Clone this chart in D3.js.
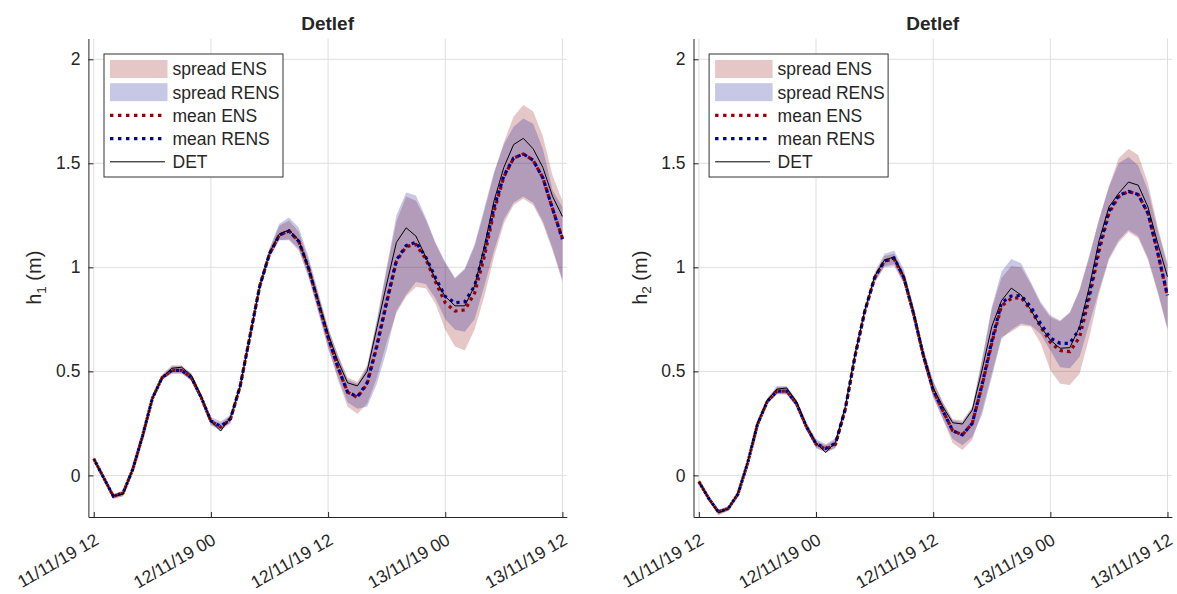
<!DOCTYPE html>
<html>
<head>
<meta charset="utf-8">
<script src="https://cdn.jsdelivr.net/npm/d3@7"></script>
<style>
  body { margin: 0; background: #fff; }
  svg text { font-family: "Liberation Sans", Arial, Helvetica, sans-serif; fill: #262626; }
</style>
</head>
<body>
<svg id="chart" width="1177" height="594"></svg>
<script>
// Hourly water level forecasts for storm Detlef, 11/11/19 12 UTC to 13/11/19 12 UTC
const startTime = Date.UTC(2019, 10, 11, 12);
const stepHours = 1;

const tickLabels = ["11/11/19 12", "12/11/19 00", "12/11/19 12", "13/11/19 00", "13/11/19 12"];
const yTicks = [0, 0.5, 1, 1.5, 2];
const yDomain = [-0.2, 2.1];
const seriesNames = ["spread ENS", "spread RENS", "mean ENS", "mean RENS", "DET"];

// h1 (left panel)
const det1 = [0.08, -0.01, -0.10, -0.09, 0.03, 0.19, 0.37, 0.47, 0.515, 0.52, 0.48, 0.38,
  0.26, 0.213, 0.28, 0.43, 0.67, 0.91, 1.07, 1.16, 1.18, 1.13, 1.00, 0.84,
  0.68, 0.55, 0.445, 0.43, 0.50, 0.71, 0.92, 1.12, 1.19, 1.15, 1.05, 0.94,
  0.86, 0.815, 0.815, 0.91, 1.10, 1.32, 1.48, 1.59, 1.62, 1.57, 1.48, 1.34, 1.245];
const meanEns1 = [0.08, -0.01, -0.10, -0.085, 0.03, 0.19, 0.37, 0.47, 0.505, 0.505, 0.47, 0.375,
  0.26, 0.232, 0.27, 0.43, 0.67, 0.91, 1.065, 1.155, 1.175, 1.125, 0.995, 0.83,
  0.665, 0.52, 0.40, 0.375, 0.44, 0.62, 0.83, 1.03, 1.10, 1.11, 1.04, 0.93,
  0.83, 0.79, 0.795, 0.875, 1.05, 1.27, 1.435, 1.525, 1.545, 1.515, 1.43, 1.28, 1.14];
const meanRens1 = [0.08, -0.01, -0.10, -0.085, 0.03, 0.19, 0.37, 0.47, 0.505, 0.505, 0.47, 0.375,
  0.262, 0.235, 0.272, 0.43, 0.67, 0.91, 1.065, 1.155, 1.175, 1.125, 0.995, 0.83,
  0.665, 0.52, 0.40, 0.378, 0.445, 0.625, 0.835, 1.035, 1.105, 1.12, 1.05, 0.95,
  0.86, 0.83, 0.835, 0.91, 1.08, 1.29, 1.44, 1.525, 1.545, 1.515, 1.43, 1.28, 1.135];
const ensLo1 = [0.07, -0.02, -0.115, -0.10, 0.02, 0.18, 0.36, 0.46, 0.49, 0.49, 0.455, 0.36,
  0.245, 0.22, 0.255, 0.415, 0.655, 0.895, 1.05, 1.13, 1.135, 1.09, 0.96, 0.79,
  0.62, 0.46, 0.33, 0.295, 0.345, 0.47, 0.64, 0.78, 0.86, 0.905, 0.90, 0.825,
  0.70, 0.62, 0.60, 0.70, 0.86, 1.05, 1.21, 1.30, 1.33, 1.30, 1.21, 1.08, 0.93];
const ensHi1 = [0.09, 0.0, -0.09, -0.075, 0.04, 0.20, 0.38, 0.485, 0.53, 0.53, 0.49, 0.39,
  0.27, 0.25, 0.285, 0.445, 0.685, 0.925, 1.09, 1.20, 1.225, 1.17, 1.035, 0.87,
  0.71, 0.58, 0.47, 0.45, 0.53, 0.74, 0.99, 1.22, 1.34, 1.32, 1.23, 1.115,
  1.02, 0.945, 0.99, 1.10, 1.27, 1.45, 1.60, 1.725, 1.78, 1.75, 1.63, 1.44, 1.32];
const rensLo1 = [0.07, -0.02, -0.11, -0.10, 0.02, 0.18, 0.36, 0.46, 0.49, 0.49, 0.455, 0.36,
  0.24, 0.215, 0.25, 0.41, 0.65, 0.89, 1.045, 1.13, 1.13, 1.08, 0.95, 0.78,
  0.61, 0.47, 0.35, 0.32, 0.33, 0.44, 0.60, 0.79, 0.87, 0.93, 0.92, 0.85,
  0.75, 0.70, 0.69, 0.75, 0.91, 1.08, 1.23, 1.31, 1.34, 1.31, 1.22, 1.09, 0.94];
const rensHi1 = [0.09, 0.0, -0.09, -0.075, 0.04, 0.20, 0.38, 0.48, 0.525, 0.525, 0.49, 0.39,
  0.28, 0.26, 0.29, 0.445, 0.685, 0.925, 1.09, 1.21, 1.24, 1.19, 1.05, 0.88,
  0.71, 0.58, 0.46, 0.44, 0.52, 0.75, 1.00, 1.25, 1.36, 1.345, 1.24, 1.12,
  1.025, 0.95, 0.995, 1.11, 1.285, 1.46, 1.59, 1.676, 1.716, 1.69, 1.57, 1.37, 1.29];

// h2 (right panel)
const det2 = [-0.03, -0.11, -0.18, -0.16, -0.085, 0.065, 0.25, 0.36, 0.415, 0.42, 0.355, 0.24,
  0.155, 0.11, 0.16, 0.33, 0.585, 0.795, 0.955, 1.035, 1.05, 0.955, 0.785, 0.58,
  0.42, 0.33, 0.253, 0.247, 0.314, 0.506, 0.715, 0.84, 0.90, 0.867, 0.795, 0.715,
  0.65, 0.611, 0.614, 0.715, 0.907, 1.13, 1.29, 1.356, 1.41, 1.395, 1.29, 1.115, 0.955];
const meanEns2 = [-0.03, -0.11, -0.175, -0.16, -0.09, 0.06, 0.245, 0.355, 0.405, 0.405, 0.345, 0.235,
  0.15, 0.125, 0.15, 0.32, 0.575, 0.79, 0.95, 1.03, 1.04, 0.95, 0.775, 0.575,
  0.41, 0.31, 0.215, 0.195, 0.25, 0.43, 0.635, 0.815, 0.85, 0.855, 0.795, 0.715,
  0.64, 0.60, 0.595, 0.665, 0.855, 1.08, 1.26, 1.34, 1.365, 1.35, 1.26, 1.07, 0.86];
const meanRens2 = [-0.03, -0.11, -0.175, -0.16, -0.09, 0.06, 0.245, 0.355, 0.405, 0.405, 0.345, 0.235,
  0.152, 0.13, 0.155, 0.32, 0.575, 0.79, 0.95, 1.03, 1.045, 0.95, 0.775, 0.575,
  0.41, 0.31, 0.215, 0.195, 0.25, 0.435, 0.645, 0.83, 0.862, 0.865, 0.81, 0.73,
  0.66, 0.635, 0.635, 0.705, 0.88, 1.10, 1.27, 1.345, 1.365, 1.35, 1.26, 1.07, 0.865];
const ensLo2 = [-0.04, -0.12, -0.19, -0.17, -0.10, 0.05, 0.235, 0.345, 0.39, 0.39, 0.33, 0.22,
  0.135, 0.11, 0.135, 0.305, 0.56, 0.775, 0.93, 1.005, 1.015, 0.925, 0.75, 0.55,
  0.38, 0.27, 0.155, 0.122, 0.17, 0.31, 0.49, 0.665, 0.69, 0.72, 0.715, 0.635,
  0.505, 0.44, 0.435, 0.49, 0.665, 0.875, 1.035, 1.12, 1.17, 1.14, 1.035, 0.875, 0.70];
const ensHi2 = [-0.02, -0.10, -0.165, -0.15, -0.08, 0.07, 0.26, 0.37, 0.425, 0.425, 0.36, 0.25,
  0.165, 0.145, 0.17, 0.335, 0.59, 0.805, 0.965, 1.055, 1.065, 0.975, 0.80, 0.60,
  0.45, 0.35, 0.27, 0.265, 0.33, 0.55, 0.80, 0.95, 1.005, 1.00, 0.92, 0.825,
  0.76, 0.74, 0.78, 0.89, 1.05, 1.23, 1.39, 1.525, 1.57, 1.54, 1.405, 1.195, 1.02];
const rensLo2 = [-0.04, -0.12, -0.19, -0.17, -0.10, 0.05, 0.235, 0.345, 0.39, 0.39, 0.33, 0.22,
  0.13, 0.11, 0.13, 0.30, 0.555, 0.77, 0.925, 1.00, 1.005, 0.92, 0.745, 0.545,
  0.375, 0.27, 0.175, 0.145, 0.185, 0.29, 0.47, 0.655, 0.70, 0.73, 0.72, 0.68,
  0.60, 0.52, 0.515, 0.57, 0.73, 0.89, 1.045, 1.13, 1.18, 1.15, 1.045, 0.885, 0.705];
const rensHi2 = [-0.02, -0.10, -0.165, -0.15, -0.08, 0.07, 0.26, 0.37, 0.43, 0.43, 0.365, 0.255,
  0.175, 0.15, 0.18, 0.34, 0.595, 0.81, 0.975, 1.065, 1.08, 0.99, 0.81, 0.61,
  0.455, 0.35, 0.265, 0.255, 0.325, 0.56, 0.81, 0.98, 1.04, 1.02, 0.93, 0.835,
  0.77, 0.745, 0.785, 0.895, 1.06, 1.235, 1.385, 1.50, 1.53, 1.49, 1.37, 1.18, 1.01];

const panels = [
  { left: 88.4, label: "1", det: det1, meanEns: meanEns1, meanRens: meanRens1,
    ensLo: ensLo1, ensHi: ensHi1, rensLo: rensLo1, rensHi: rensHi1 },
  { left: 693.5, label: "2", det: det2, meanEns: meanEns2, meanRens: meanRens2,
    ensLo: ensLo2, ensHi: ensHi2, rensLo: rensLo2, rensHi: rensHi2 }
];

const colors = {
  ensFill: "rgb(140,0,0)", rensFill: "rgb(0,0,140)",
  ensLine: "#990000", rensLine: "#000099", det: "#000000",
  axis: "#262626", grid: "#dedede"
};
const fillOpacity = 0.22;
const dotDash = "3.2 4";
const labelSize = 17.5;

const plotW = 478.4, plotTop = 38.5, plotBottom = 517;
const hourMs = 3600 * 1000;
const times = det1.map((_, i) => new Date(startTime + i * stepHours * hourMs));
const parseTick = d3.utcParse("%d/%m/%y %H");
const tickDates = tickLabels.map(parseTick);
const fmtTick = d3.utcFormat("%d/%m/%y %H");

const svg = d3.select("#chart");

panels.forEach(p => {
  const x = d3.scaleUtc()
    .domain([new Date(startTime - 0.55 * hourMs), new Date(startTime + 48.45 * hourMs)])
    .range([0, plotW]);
  const y = d3.scaleLinear().domain(yDomain).range([plotBottom, plotTop]);

  const g = svg.append("g").attr("transform", `translate(${p.left},0)`);

  // grid
  g.append("g").selectAll("line").data(tickDates).join("line")
    .attr("x1", d => x(d)).attr("x2", d => x(d))
    .attr("y1", plotTop).attr("y2", plotBottom)
    .attr("stroke", colors.grid).attr("stroke-width", 1);
  g.append("g").selectAll("line").data(yTicks).join("line")
    .attr("x1", 0).attr("x2", plotW)
    .attr("y1", d => y(d)).attr("y2", d => y(d))
    .attr("stroke", colors.grid).attr("stroke-width", 1);

  const idx = d3.range(times.length);
  const band = (lo, hi) => d3.area()
    .x(i => x(times[i])).y0(i => y(lo[i])).y1(i => y(hi[i]))(idx);
  const line = arr => d3.line().x(i => x(times[i])).y(i => y(arr[i]))(idx);

  // spreads
  g.append("path").attr("d", band(p.ensLo, p.ensHi))
    .attr("fill", colors.ensFill).attr("fill-opacity", fillOpacity);
  g.append("path").attr("d", band(p.rensLo, p.rensHi))
    .attr("fill", colors.rensFill).attr("fill-opacity", fillOpacity);

  // ensemble means (dotted)
  g.append("path").attr("d", line(p.meanEns))
    .attr("fill", "none").attr("stroke", colors.ensLine).attr("stroke-width", 3.2)
    .attr("stroke-dasharray", dotDash);
  g.append("path").attr("d", line(p.meanRens))
    .attr("fill", "none").attr("stroke", colors.rensLine).attr("stroke-width", 3.2)
    .attr("stroke-dasharray", dotDash).attr("stroke-dashoffset", 3.6);

  // deterministic run
  g.append("path").attr("d", line(p.det))
    .attr("fill", "none").attr("stroke", colors.det).attr("stroke-width", 1);

  // axes
  const yAxis = d3.axisLeft(y).tickValues(yTicks).tickFormat(d3.format("~g"))
    .tickSizeInner(-5).tickSizeOuter(0).tickPadding(8);
  const ya = g.append("g").call(yAxis);
  ya.select(".domain").attr("stroke", colors.axis);
  ya.selectAll(".tick line").attr("stroke", colors.axis);
  ya.selectAll(".tick text").attr("font-size", labelSize).attr("fill", colors.axis)
    .attr("font-family", "'Liberation Sans', Arial, sans-serif");

  const xAxis = d3.axisBottom(x).tickValues(tickDates).tickFormat(() => "")
    .tickSizeInner(-5).tickSizeOuter(0);
  const xa = g.append("g").attr("transform", `translate(0,${plotBottom})`).call(xAxis);
  xa.select(".domain").attr("stroke", colors.axis);
  xa.selectAll(".tick line").attr("stroke", colors.axis);

  g.append("g").selectAll("text").data(tickDates).join("text")
    .attr("transform", d => `translate(${x(d) + 3},${plotBottom + 21}) rotate(-30)`)
    .attr("text-anchor", "end").attr("dy", "0.35em")
    .attr("font-size", labelSize)
    .text(d => fmtTick(d));

  // title
  g.append("text").attr("x", plotW / 2).attr("y", 30)
    .attr("text-anchor", "middle").attr("font-size", 19).attr("font-weight", "bold")
    .attr("fill", "#000").text("Detlef");

  // y label
  const yl = g.append("text")
    .attr("transform", `translate(${-47},${(plotTop + plotBottom) / 2}) rotate(-90)`)
    .attr("text-anchor", "middle").attr("font-size", 20);
  yl.append("tspan").text("h");
  yl.append("tspan").attr("font-size", 13.5).attr("dy", 4.5).text(p.label);
  yl.append("tspan").attr("dy", -4.5).text(" (m)");

  // legend
  const lg = g.append("g").attr("transform", "translate(15.6,54)");
  lg.append("rect").attr("width", 179).attr("height", 123)
    .attr("fill", "#fff").attr("stroke", "#333").attr("stroke-width", 1);
  const rowY = i => 15 + i * 23.2;
  seriesNames.forEach((name, i) => {
    const cy = rowY(i);
    if (i < 2) {
      lg.append("rect").attr("x", 6).attr("y", cy - 9).attr("width", 57.5).attr("height", 18)
        .attr("fill", i === 0 ? colors.ensFill : colors.rensFill).attr("fill-opacity", fillOpacity);
    } else if (i < 4) {
      lg.append("line").attr("x1", 6).attr("x2", 60).attr("y1", cy).attr("y2", cy)
        .attr("stroke", i === 2 ? colors.ensLine : colors.rensLine)
        .attr("stroke-width", 3.2).attr("stroke-dasharray", "3.4 4.6");
    } else {
      lg.append("line").attr("x1", 6).attr("x2", 61).attr("y1", cy).attr("y2", cy)
        .attr("stroke", colors.det).attr("stroke-width", 1);
    }
    lg.append("text").attr("x", 68.5).attr("y", cy).attr("dy", "0.36em")
      .attr("font-size", labelSize).attr("fill", "#000").text(name);
  });
});
</script>
</body>
</html>
